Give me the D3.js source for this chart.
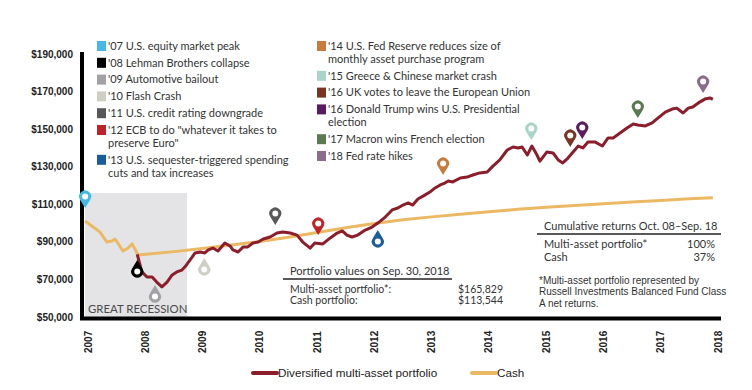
<!DOCTYPE html>
<html>
<head>
<meta charset="utf-8">
<script src="https://cdn.jsdelivr.net/npm/d3@7"></script>
<style>
  body { margin: 0; background: #fff; }
  text { font-family: Lato, "Noto Sans", sans-serif; }
</style>
</head>
<body>
<svg id="chart" width="752" height="390"></svg>
<script>
// Year labels along the bottom
const years = d3.range(2007, 2019);
const yTicks = d3.range(50000, 190001, 20000);

// Cash line (first part is the shared pre-Oct-08 path)
const cash = [
  [2006.95, 101100], [2007.09, 97900], [2007.21, 95200], [2007.33, 89900],
  [2007.42, 90500], [2007.47, 91500], [2007.52, 89400], [2007.61, 85100],
  [2007.70, 86700], [2007.77, 88900], [2007.82, 86200], [2007.87, 83000],
  [2008.5, 84800], [2009.0, 86500], [2009.5, 88300], [2010.0, 90200],
  [2010.5, 92500], [2011.0, 95000], [2011.5, 97500], [2012.0, 99800],
  [2012.5, 101800], [2013.0, 103300], [2013.5, 104700], [2014.0, 106000],
  [2014.5, 107300], [2015.0, 108400], [2015.5, 109400], [2016.0, 110300],
  [2016.5, 111200], [2017.0, 112000], [2017.5, 112900], [2017.91, 113544]
];

// Diversified multi-asset portfolio
const portfolio = [
  [2007.86, 83300], [2007.94, 74000], [2008.03, 71300], [2008.12, 71300],
  [2008.20, 68600], [2008.29, 66000], [2008.38, 68600], [2008.47, 72400],
  [2008.55, 74000], [2008.64, 75000], [2008.69, 76600], [2008.78, 80300],
  [2008.87, 84100], [2008.96, 84600], [2009.04, 84100], [2009.10, 85700],
  [2009.18, 86700], [2009.27, 85100], [2009.39, 89400], [2009.48, 87800],
  [2009.53, 85700], [2009.62, 84600], [2009.71, 87300], [2009.79, 87300],
  [2009.88, 89400], [2009.97, 89900], [2010.06, 91500], [2010.18, 92600],
  [2010.30, 94700], [2010.40, 95200], [2010.53, 94700], [2010.65, 93600],
  [2010.75, 89900], [2010.88, 86700], [2010.96, 89400], [2011.10, 88900],
  [2011.23, 92100], [2011.35, 94700], [2011.44, 95800], [2011.52, 93600],
  [2011.61, 92600], [2011.71, 93600], [2011.84, 96300], [2011.96, 97900],
  [2012.06, 100000], [2012.19, 103200], [2012.31, 107000], [2012.41, 108000],
  [2012.50, 109600], [2012.59, 110700], [2012.67, 109600], [2012.76, 112800],
  [2012.88, 114900], [2012.97, 116500], [2013.06, 118700], [2013.15, 120300],
  [2013.23, 121300], [2013.29, 122400], [2013.37, 121900], [2013.50, 124000],
  [2013.62, 124500], [2013.72, 125600], [2013.84, 126700], [2013.97, 127200],
  [2014.07, 130300], [2014.19, 133600], [2014.32, 138900], [2014.42, 140500],
  [2014.51, 140000], [2014.58, 140500], [2014.67, 136200], [2014.75, 141000],
  [2014.84, 136200], [2014.89, 133000], [2015.01, 137800], [2015.12, 137300],
  [2015.21, 133600], [2015.29, 132000], [2015.38, 134600], [2015.47, 137800],
  [2015.56, 141000], [2015.64, 140000], [2015.73, 143200], [2015.85, 143200],
  [2015.98, 141000], [2016.08, 145300], [2016.17, 145300], [2016.29, 147900],
  [2016.41, 150600], [2016.52, 152700], [2016.60, 152200], [2016.73, 151700],
  [2016.85, 153300], [2016.95, 155900], [2017.08, 159100], [2017.20, 160700],
  [2017.28, 161200], [2017.39, 158600], [2017.48, 161200], [2017.56, 161800],
  [2017.68, 164400], [2017.77, 166000], [2017.86, 166600], [2017.91, 165829]
];

// Events: legend text, colour, where the pin points, pin direction, legend column
const events = [
  { label: ["'07 U.S. equity market peak"], color: "#45b8e8", t: 2006.95, v: 108000, dir: "down", col: 0 },
  { label: ["'08 Lehman Brothers collapse"], color: "#000000", t: 2007.86, v: 80300, dir: "up", col: 0 },
  { label: ["'09 Automotive bailout"], color: "#a2a2a6", t: 2008.17, v: 67000, dir: "up", col: 0 },
  { label: ["'10 Flash Crash"], color: "#cfcfc6", t: 2009.03, v: 81400, dir: "up", col: 0 },
  { label: ["'11 U.S. credit rating downgrade"], color: "#58585a", t: 2010.27, v: 99000, dir: "down", col: 0 },
  { label: ["'12 ECB to do \"whatever it takes to", "preserve Euro\""], color: "#c0222c", t: 2011.02, v: 93600, dir: "down", col: 0 },
  { label: ["'13 U.S. sequester-triggered spending", "cuts and tax increases"], color: "#1b5c9c", t: 2012.06, v: 96300, dir: "up", col: 0 },
  { label: ["'14 U.S. Fed Reserve reduces size of", "monthly asset purchase program"], color: "#c97b3b", t: 2013.20, v: 125600, dir: "down", col: 1 },
  { label: ["'15 Greece & Chinese market crash"], color: "#a9d5c9", t: 2014.74, v: 144200, dir: "down", col: 1 },
  { label: ["'16 UK votes to leave the European Union"], color: "#7a3421", t: 2015.42, v: 140500, dir: "down", col: 1 },
  { label: ["'16 Donald Trump wins U.S. Presidential", "election"], color: "#5b1b61", t: 2015.63, v: 144700, dir: "down", col: 1 },
  { label: ["'17 Macron wins French election"], color: "#5b7a51", t: 2016.60, v: 155900, dir: "down", col: 1 },
  { label: ["'18 Fed rate hikes"], color: "#8b6d8b", t: 2017.74, v: 169200, dir: "down", col: 1 }
];

const portfolioRows = [["Multi-asset portfolio*:", "$165,829"], ["Cash portfolio:", "$113,544"]];
const returnRows = [["Multi-asset portfolio*", "100%"], ["Cash", "37%"]];
const footnote = ["*Multi-asset portfolio represented by", "Russell Investments Balanced Fund Class", "A net returns."];
const recession = [2006.95, 2008.73];

const RED = "#8c1d2b";
const GOLD = "#ebb864";
const ARIAL = "'Liberation Sans', Arial, sans-serif";

const svg = d3.select("#chart");

const x = d3.scaleLinear().domain([2007, 2018]).range([88, 718]);
const y = d3.scaleLinear().domain([50000, 190000]).range([317, 54]);

// Great recession shading
svg.append("rect")
  .attr("x", x(recession[0]))
  .attr("y", 193)
  .attr("width", x(recession[1]) - x(recession[0]))
  .attr("height", y(50000) - 193)
  .attr("fill", "#e4e4e7");

svg.append("text")
  .attr("x", 88).attr("y", 313)
  .attr("fill", "#4a4a4a")
  .style("font-size", "11.4px")
  .text("GREAT RECESSION");

// Y axis labels
svg.append("g").selectAll("text")
  .data(yTicks)
  .join("text")
  .attr("x", 73)
  .attr("y", d => y(d))
  .attr("dy", "0.35em")
  .attr("text-anchor", "end")
  .attr("fill", "#222")
  .style("font-family", ARIAL)
  .style("font-weight", "bold")
  .style("font-size", "10px")
  .text(d => "$" + d3.format(",")(d));

// X axis labels (rotated)
svg.append("g").selectAll("text")
  .data(years)
  .join("text")
  .attr("transform", d => `translate(${x(d) + 3.5},353) rotate(-90)`)
  .attr("fill", "#222")
  .style("font-family", ARIAL)
  .style("font-weight", "bold")
  .style("font-size", "10px")
  .text(d => d);

// Lines
const line = d3.line()
  .x(d => x(d[0]))
  .y(d => y(d[1]))
  .curve(d3.curveLinear);

svg.append("path")
  .datum(cash)
  .attr("d", line)
  .attr("fill", "none")
  .attr("stroke", GOLD)
  .attr("stroke-width", 3)
  .attr("stroke-linejoin", "round");

svg.append("path")
  .datum(portfolio)
  .attr("d", line)
  .attr("fill", "none")
  .attr("stroke", RED)
  .attr("stroke-width", 3)
  .attr("stroke-linejoin", "round");

// Axis frame
svg.append("line")
  .attr("x1", 82).attr("x2", 82)
  .attr("y1", 52).attr("y2", 320)
  .attr("stroke", "#000").attr("stroke-width", 4);
svg.append("line")
  .attr("x1", 80).attr("x2", 721)
  .attr("y1", 318.5).attr("y2", 318.5)
  .attr("stroke", "#000").attr("stroke-width", 4);

// Map pins
const pinR = 6, pinH = 11.5;
const cosA = pinR / pinH, sinA = Math.sqrt(1 - cosA * cosA);
const tx = pinR * sinA, ty = -pinH + pinR * cosA;
const pinPath = `M0,0 L${-tx},${ty} A${pinR},${pinR} 0 1,1 ${tx},${ty} Z`;

const pins = svg.append("g").selectAll("g")
  .data(events)
  .join("g")
  .attr("transform", d => `translate(${x(d.t)},${y(d.v)}) rotate(${d.dir === "up" ? 180 : 0})`);

pins.append("path")
  .attr("d", pinPath)
  .attr("fill", d => d.color);
pins.append("circle")
  .attr("cy", -pinH)
  .attr("r", 3)
  .attr("fill", "#fff");

// Event legend, two columns
const colX = [97, 317];
[0, 1].forEach(c => {
  let cy = 46;
  events.filter(e => e.col === c).forEach(e => {
    svg.append("rect")
      .attr("x", colX[c]).attr("y", cy - 5)
      .attr("width", 9).attr("height", 10)
      .attr("fill", e.color);
    e.label.forEach((l, i) => {
      svg.append("text")
        .attr("x", colX[c] + 11)
        .attr("y", cy + i * 13)
        .attr("dy", "0.35em")
        .attr("fill", "#333")
        .style("font-size", "11px")
        .text(l);
    });
    cy += 13 * (e.label.length - 1) + 16.8;
  });
});

// Portfolio values box
svg.append("text")
  .attr("x", 290).attr("y", 271).attr("dy", "0.35em")
  .attr("fill", "#333").style("font-size", "11px")
  .text("Portfolio values on Sep. 30, 2018");
svg.append("line")
  .attr("x1", 283).attr("x2", 452).attr("y1", 279).attr("y2", 279)
  .attr("stroke", "#222").attr("stroke-width", 1.3);
portfolioRows.forEach((r, i) => {
  svg.append("text")
    .attr("x", 290).attr("y", 289 + i * 11.5).attr("dy", "0.35em")
    .attr("fill", "#333").style("font-size", "10.5px").text(r[0]);
  svg.append("text")
    .attr("x", 503).attr("y", 289 + i * 11.5).attr("dy", "0.35em")
    .attr("text-anchor", "end")
    .attr("fill", "#333").style("font-size", "10.5px").text(r[1]);
});

// Cumulative returns box
svg.append("text")
  .attr("x", 544).attr("y", 226).attr("dy", "0.35em")
  .attr("fill", "#333").style("font-size", "11px")
  .text("Cumulative returns Oct. 08\u2013Sep. 18");
svg.append("line")
  .attr("x1", 537).attr("x2", 721).attr("y1", 234).attr("y2", 234)
  .attr("stroke", "#222").attr("stroke-width", 1.3);
returnRows.forEach((r, i) => {
  svg.append("text")
    .attr("x", 544).attr("y", 244 + i * 13).attr("dy", "0.35em")
    .attr("fill", "#333").style("font-size", "11px").text(r[0]);
  svg.append("text")
    .attr("x", 715).attr("y", 244 + i * 13).attr("dy", "0.35em")
    .attr("text-anchor", "end")
    .attr("fill", "#333").style("font-size", "11px").text(r[1]);
});
footnote.forEach((l, i) => {
  svg.append("text")
    .attr("x", 539).attr("y", 280 + i * 11.5).attr("dy", "0.35em")
    .attr("fill", "#333")
    .style("font-family", ARIAL)
    .style("font-size", "10px").text(l);
});

// Bottom legend
const legend = [
  { name: "Diversified multi-asset portfolio", color: RED, x: 253 },
  { name: "Cash", color: GOLD, x: 472 }
];
const lg = svg.append("g").selectAll("g")
  .data(legend)
  .join("g")
  .attr("transform", d => `translate(${d.x},373)`);
lg.append("line")
  .attr("x1", 0).attr("x2", 24)
  .attr("stroke", d => d.color)
  .attr("stroke-width", 4)
  .attr("stroke-linecap", "round");
lg.append("text")
  .attr("x", 25).attr("dy", "0.35em")
  .attr("fill", "#222")
  .style("font-family", ARIAL)
  .style("font-size", "11.7px")
  .text(d => d.name);
</script>
</body>
</html>
